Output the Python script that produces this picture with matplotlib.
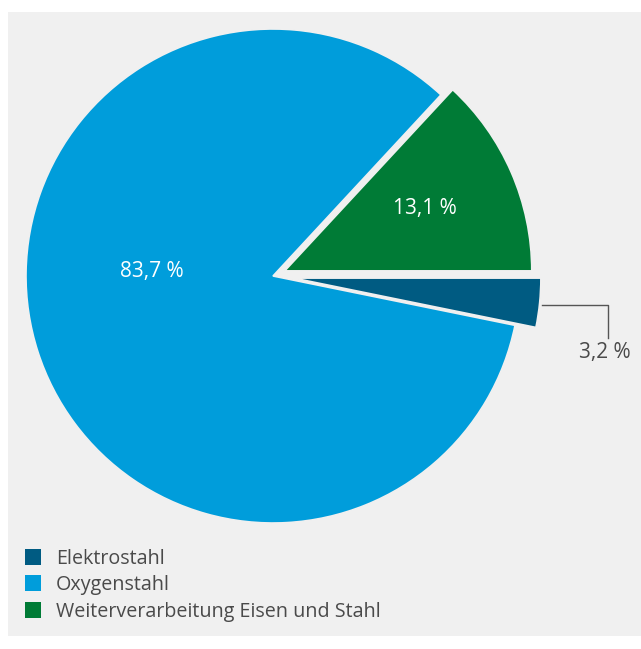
import matplotlib
matplotlib.use("Agg")
import matplotlib.pyplot as plt
from matplotlib.patches import Patch, Rectangle

# Anteile in Prozent
kategorien = ["Elektrostahl", "Oxygenstahl", "Weiterverarbeitung Eisen und Stahl"]
anteile = [3.2, 83.7, 13.1]
farben = ["#005b82", "#009ddb", "#007b36"]
explode = [0.085, 0.0, 0.052]

HG = "#f0f0f0"
TEXT = "#4a4a4a"

plt.rcParams["font.family"] = ["Open Sans", "DejaVu Sans"]

W, H = 641, 649
fig = plt.figure(figsize=(W / 100, H / 100), dpi=100)
fig.patch.set_facecolor("white")
fig.patches.append(Rectangle((8 / W, 13 / H), 1 - 8 / W, (636 - 12) / H,
                             transform=fig.transFigure, facecolor=HG,
                             edgecolor="none", zorder=-5))

# Kreis: Mittelpunkt (273, 276) px, Radius 247 px
cx, cy, r = 273, 276, 247
ax = fig.add_axes([(cx - r) / W, (H - cy - r) / H, 2 * r / W, 2 * r / H])
ax.set_zorder(2)
ax.set_facecolor("none")
wedges, _ = ax.pie(anteile, colors=farben, explode=explode, startangle=0,
                   counterclock=False,
                   wedgeprops=dict(edgecolor=HG, linewidth=1.2))
ax.set_xlim(-1, 1)
ax.set_ylim(-1, 1)
ax.set_aspect("equal")
ax.axis("off")
for w in wedges:
    w.set_clip_on(False)


def fmt(v):
    return f"{v:.1f}".replace(".", ",") + " %"


ax.text(-0.49, 0.02, fmt(anteile[1]), color="white", fontsize=15,
        ha="center", va="center")
ax.text(0.615, 0.272, fmt(anteile[2]), color="white", fontsize=15,
        ha="center", va="center")
ax.plot([1.09, 1.355, 1.355], [-0.118, -0.118, -0.252], color="#555555",
        linewidth=1.0, clip_on=False)
ax.text(1.343, -0.31, fmt(anteile[0]), color=TEXT, fontsize=15,
        ha="center", va="center", clip_on=False)

handles = [Patch(facecolor=f, edgecolor="none") for f in farben]
leg = fig.legend(handles, kategorien, loc="upper left",
                 bbox_to_anchor=(25 / W, 1 - 549 / H), frameon=False,
                 fontsize=14.2, labelcolor=TEXT, handlelength=0.82,
                 handleheight=0.87, handletextpad=0.75, labelspacing=0.32,
                 borderaxespad=0, borderpad=0)
leg.set_zorder(3)

fig.savefig("out.png", dpi=100, facecolor=fig.get_facecolor())
